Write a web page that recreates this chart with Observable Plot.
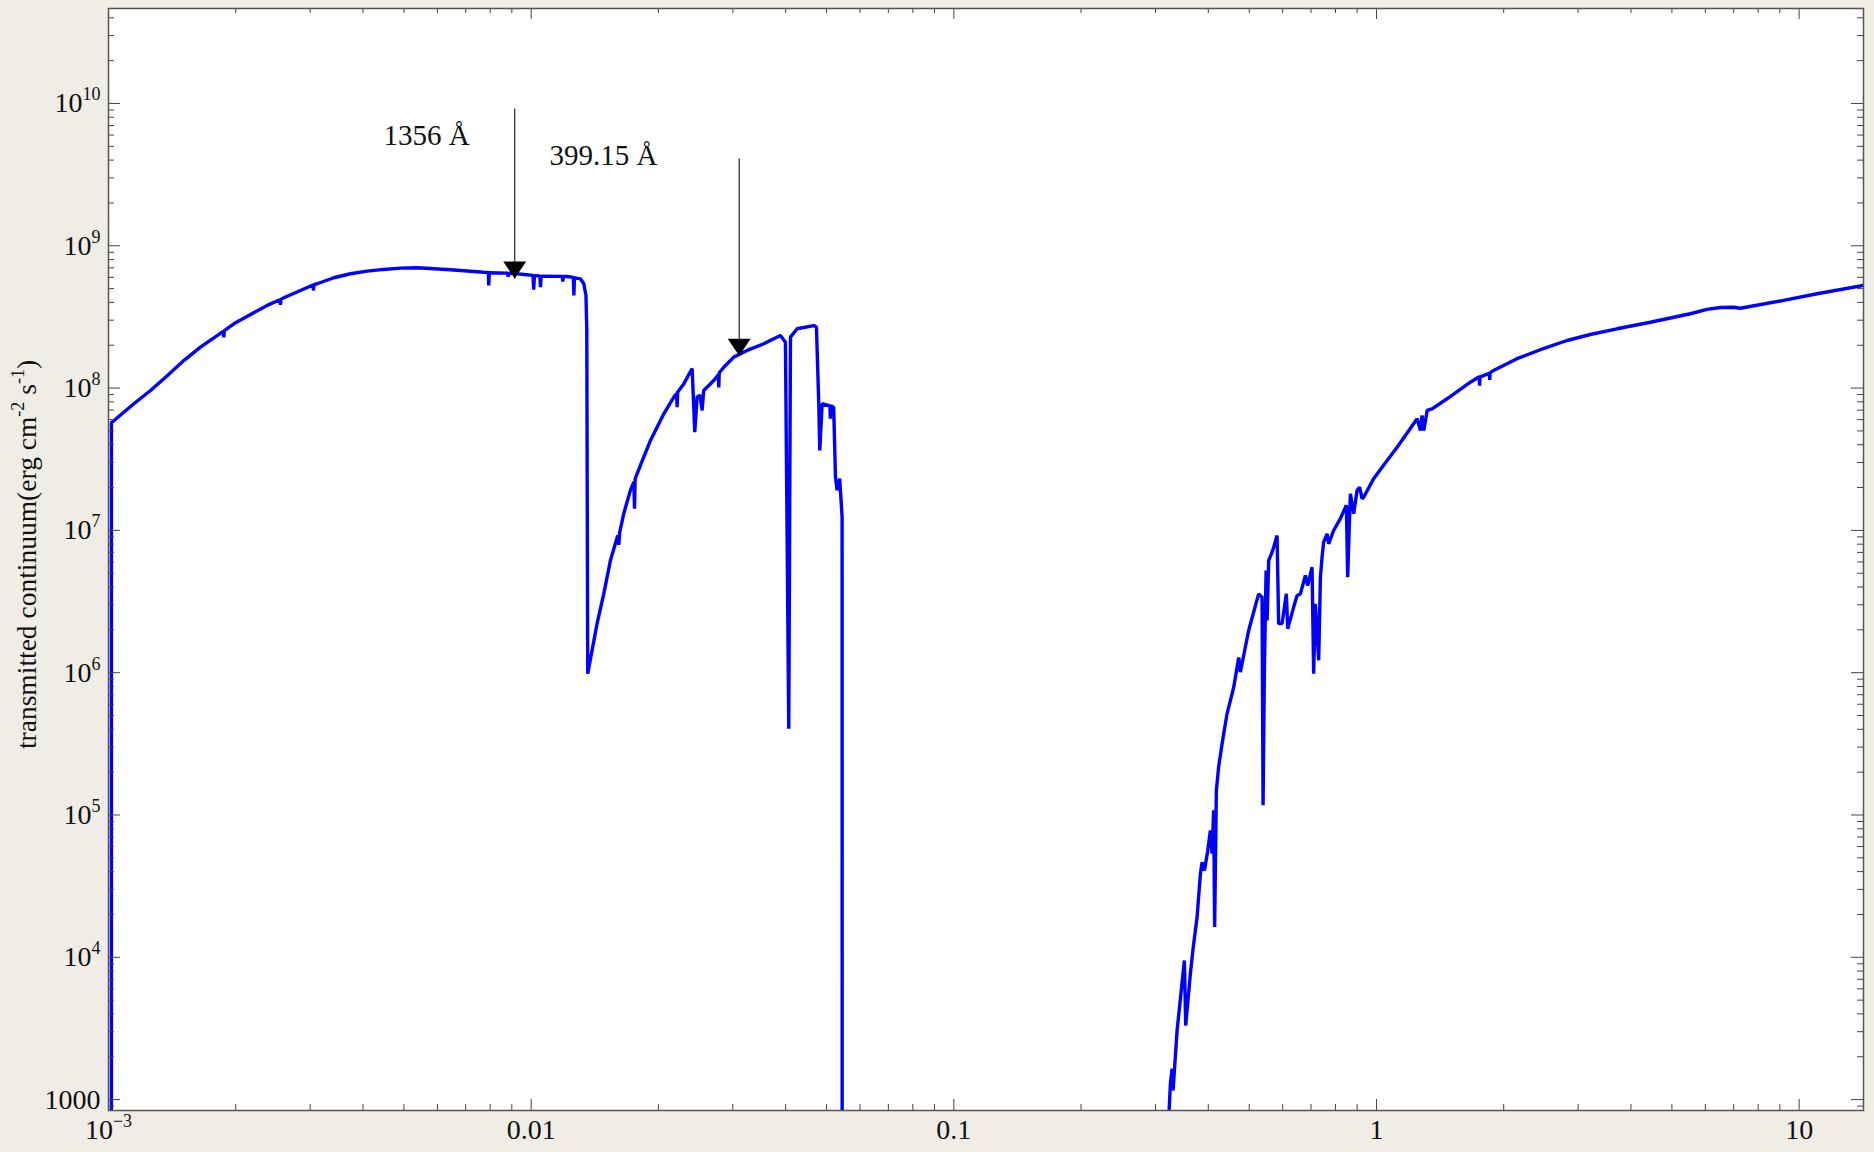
<!DOCTYPE html>
<html>
<head>
<meta charset="utf-8">
<script src="https://cdn.jsdelivr.net/npm/d3@7"></script>
<script src="https://cdn.jsdelivr.net/npm/@observablehq/plot@0.6"></script>
<style>
  html, body { margin: 0; padding: 0; background: #f0ede7; }
  #chart svg { display: block; }
</style>
</head>
<body>
<div id="chart"></div>
<script>
// Transmitted continuum as a function of photon energy (keV), log–log.
// Points where the flux falls below the plotted range carry a value of 1 (or 500)
// so the line runs off the bottom of the frame and is clipped there.
const energy = [
  0.001016, 0.001016, 0.001148, 0.001257, 0.001377, 0.001507, 0.001650,
  0.001808, 0.001868, 0.001874, 0.001880, 0.001979, 0.002168, 0.002373,
  0.002545, 0.002552, 0.002559, 0.002599, 0.002845,
  0.003048, 0.003055, 0.003062, 0.003117, 0.003411, 0.003737, 0.004093,
  0.004481, 0.004907, 0.005374,
  0.006444, 0.007724, 0.00792, 0.007937, 0.00796,
  0.00880, 0.00882, 0.00884, 0.009265,
  0.01010, 0.01014, 0.01018, 0.01048, 0.01052, 0.01056,
  0.01185, 0.01188, 0.01191, 0.01217,
  0.01258, 0.01262, 0.01266, 0.01308, 0.01332, 0.01348, 0.01354, 0.01361,
  // He I / He II part of the spectrum
  0.01432, 0.01485, 0.01540, 0.01598, 0.01605, 0.01612, 0.01619,
  0.01656, 0.01717, 0.01750, 0.01756, 0.01762, 0.01781, 0.01846,
  0.01915, 0.01986, 0.02060, 0.02175, 0.02208, 0.02215, 0.02222,
  0.02296, 0.02404, 0.02438, 0.02470, 0.02510, 0.02538, 0.02560,
  0.02704, 0.02772, 0.02779, 0.02786, 0.02856, 0.03015, 0.03243,
  0.03550, 0.03889, 0.03996, 0.04069, 0.04107, 0.04258, 0.04662,
  0.04731, 0.04792, 0.04818, 0.04881, 0.05090, 0.05104, 0.05118,
  0.05197, 0.05248, 0.05296, 0.05370, 0.05441, 0.05445,
  // soft X-ray recovery
  0.3205, 0.3254, 0.3284, 0.3302, 0.3375, 0.3512, 0.3537, 0.3628,
  0.3682, 0.3763, 0.3832, 0.3867, 0.3917, 0.3989, 0.4046, 0.4083,
  0.4119, 0.4141, 0.4180, 0.4232, 0.4312, 0.4430, 0.4595, 0.4721,
  0.4764, 0.4984, 0.5263, 0.5362, 0.5391, 0.5430, 0.5481, 0.5511,
  0.5559, 0.5662, 0.5712, 0.5818, 0.5869, 0.5978, 0.6120, 0.6166,
  0.6369, 0.6489, 0.6607, 0.6788, 0.6873, 0.7040, 0.7102, 0.7168,
  0.7300, 0.7367, 0.7435, 0.7500, 0.7640, 0.7707, 0.7918, 0.8214,
  0.8488, 0.8548, 0.8641, 0.8676, 0.8832, 0.8998, 0.9125, 0.9245,
  0.9326, 0.9849, 1.031, 1.119, 1.248, 1.271, 1.282, 1.294, 1.318,
  1.354, 1.469, 1.668, 1.750, 1.754, 1.758, 1.849, 1.853, 1.857,
  1.893, 2.150, 2.442, 2.824, 3.206, 3.708, 4.446, 5.528, 6.055,
  6.512, 6.998, 7.259, 9.192, 11.03, 14.21
];
const flux = [
  1, 5.70e7, 7.76e7, 9.62e7, 1.22e8, 1.56e8, 1.94e8,
  2.34e8, 2.50e8, 2.27e8, 2.53e8, 2.83e8, 3.29e8, 3.81e8,
  4.18e8, 3.85e8, 4.21e8, 4.31e8, 4.85e8,
  5.30e8, 4.85e8, 5.33e8, 5.41e8, 5.96e8, 6.36e8, 6.63e8,
  6.82e8, 6.96e8, 7.01e8,
  6.78e8, 6.52e8, 6.49e8, 5.26e8, 6.47e8,
  6.42e8, 6.05e8, 6.41e8, 6.36e8,
  6.19e8, 4.91e8, 6.17e8, 6.14e8, 5.12e8, 6.12e8,
  6.10e8, 5.60e8, 6.10e8, 6.08e8,
  6.00e8, 4.47e8, 5.95e8, 5.86e8, 5.41e8, 4.47e8, 2.54e8, 9.82e5,
  2.21e6, 3.58e6, 6.14e6, 8.96e6, 9.20e6, 7.90e6, 9.60e6,
  1.31e7, 1.91e7, 2.19e7, 1.42e7, 2.30e7, 2.50e7, 3.27e7,
  4.28e7, 5.31e7, 6.60e7, 8.63e7, 9.15e7, 7.34e7, 9.40e7,
  1.07e8, 1.37e8, 4.90e7, 8.63e7, 8.90e7, 6.96e7, 9.62e7,
  1.13e8, 1.24e8, 1.01e8, 1.28e8, 1.40e8, 1.65e8, 1.84e8,
  2.05e8, 2.34e8, 2.10e8, 4.03e5, 2.28e8, 2.61e8, 2.75e8,
  2.68e8, 7.76e7, 3.64e7, 7.76e7, 7.50e7, 6.09e7, 7.50e7,
  7.34e7, 2.37e7, 1.91e7, 2.31e7, 1.24e7, 1,
  500, 1291, 1647, 1159, 3059, 9495, 3317, 7656,
  1.15e4, 1.91e4, 3.86e4, 4.66e4, 4.07e4, 5.63e4, 7.78e4, 5.34e4,
  1.08e5, 1.63e4, 1.49e5, 2.17e5, 3.17e5, 5.14e5, 7.91e5, 1.28e6,
  1.01e6, 1.98e6, 3.58e6, 3.39e6, 1.17e5, 1.04e6, 5.23e6, 2.33e6,
  6.14e6, 7.03e6, 7.62e6, 9.21e6, 2.21e6, 2.21e6, 3.58e6, 2.03e6,
  2.89e6, 3.49e6, 3.58e6, 4.82e6, 4.10e6, 5.51e6, 9.82e5, 3.05e6,
  1.22e6, 4.69e6, 6.48e6, 8.26e6, 9.46e6, 8.05e6, 9.98e6, 1.21e7,
  1.50e7, 4.69e6, 1.31e7, 1.81e7, 1.31e7, 1.91e7, 2.01e7, 1.67e7,
  1.71e7, 2.31e7, 2.78e7, 3.84e7, 6.09e7, 5.04e7, 6.42e7, 5.04e7, 6.96e7,
  7.15e7, 8.41e7, 1.10e8, 1.20e8, 1.04e8, 1.20e8, 1.27e8, 1.14e8, 1.28e8,
  1.33e8, 1.61e8, 1.86e8, 2.16e8, 2.38e8, 2.61e8, 2.90e8, 3.33e8, 3.57e8,
  3.68e8, 3.70e8, 3.64e8, 4.13e8, 4.60e8, 5.26e8
];

// Axis ticks and labels ("^" marks a superscript)
const xTicks = [0.001, 0.01, 0.1, 1, 10];
const xTickLabels = ["10^\u22123", "0.01", "0.1", "1", "10"];
const yTicks = [1e3, 1e4, 1e5, 1e6, 1e7, 1e8, 1e9, 1e10];
const yTickLabels = ["1000", "10^4", "10^5", "10^6", "10^7", "10^8", "10^9", "10^10"];
const yTitle = "transmitted continuum(erg cm^-2 s^-1)";

// Marked wavelengths (Å), with the flux at the arrow tip and tail,
// and where each caption sits (energy in keV, flux)
const markWavelength = [1356, 399.15];
const markLabel = ["1356 Å", "399.15 Å"];
const markTipFlux = [5.89e8, 1.69e8];
const markTailFlux = [9.22e9, 4.11e9];
const markLabelEnergy = [0.004473, 0.01105];
const markLabelFlux = [5.07e9, 3.67e9];

const HC = 12.39842; // keV·Å

const spectrum = energy.map((e, i) => ({e, f: flux[i]}));
const marked = markWavelength.map((w, i) => ({
  e: HC / w,
  tip: markTipFlux[i],
  tail: markTailFlux[i],
  label: markLabel[i],
  le: markLabelEnergy[i],
  lf: markLabelFlux[i]
}));

const xDomain = [0.001, 14.2];
const yDomain = [838, 4.65e10];

// minor ticks: 2–9 within every decade of the domain
function minorTicks([lo, hi]) {
  const out = [];
  for (let k = Math.floor(Math.log10(lo)); k <= Math.ceil(Math.log10(hi)); k++) {
    for (let m = 2; m <= 9; m++) {
      const v = m * Math.pow(10, k);
      if (v >= lo && v <= hi) out.push(v);
    }
  }
  return out;
}
const xMinor = minorTicks(xDomain);
const yMinor = minorTicks(yDomain);

// layout
const W = 1874, H = 1152;
const M = {left: 108, right: 11, top: 8, bottom: 42};
const innerW = W - M.left - M.right;
const innerH = H - M.top - M.bottom;
const major = 12, minor = 6;
const tickColor = "#444";

// filled arrowhead with its tip at the anchor point, pointing down
const arrowHead = {
  draw(context) {
    context.moveTo(0, 0);
    context.lineTo(-11.5, -17);
    context.lineTo(11.5, -17);
    context.closePath();
  }
};

// inward tick segments along each side of the frame
const yTicksOn = (values, len, side) => Plot.tickY(values, {
  y: (d) => d, stroke: tickColor, strokeWidth: 1,
  insetLeft: side === "right" ? innerW - len : 0,
  insetRight: side === "left" ? innerW - len : 0
});
const xTicksOn = (values, len, side) => Plot.tickX(values, {
  x: (d) => d, stroke: tickColor, strokeWidth: 1,
  insetTop: side === "bottom" ? innerH - len : 0,
  insetBottom: side === "top" ? innerH - len : 0
});

const chart = Plot.plot({
  width: W,
  height: H,
  marginLeft: M.left,
  marginRight: M.right,
  marginTop: M.top,
  marginBottom: M.bottom,
  style: {
    fontFamily: '"Liberation Serif", "Times New Roman", serif',
    fontSize: "28px",
    background: "#f0ede7",
    color: "#111",
    overflow: "visible"
  },
  x: {type: "log", domain: xDomain, axis: null},
  y: {type: "log", domain: yDomain, axis: null},
  marks: [
    Plot.frame({fill: "white", stroke: "none"}),

    Plot.line(spectrum, {
      x: "e", y: "f", stroke: "#0000ff", strokeWidth: 3.4,
      strokeLinejoin: "bevel", strokeLinecap: "butt", clip: true
    }),

    // arrows pointing at the marked wavelengths
    Plot.link(marked, {x1: "e", x2: "e", y1: "tail", y2: "tip", stroke: "#222", strokeWidth: 1.2}),
    Plot.dot(marked, {x: "e", y: "tip", symbol: arrowHead, r: 5, fill: "black", stroke: "none"}),
    Plot.text(marked, {
      x: "le", y: "lf", text: "label", textAnchor: "start", lineAnchor: "bottom",
      fontSize: 29, fill: "#111"
    }),

    // inward ticks on all four sides
    yTicksOn(yTicks, major, "left"),
    yTicksOn(yMinor, minor, "left"),
    yTicksOn(yTicks, major, "right"),
    yTicksOn(yMinor, minor, "right"),
    xTicksOn(xTicks, 11, "bottom"),
    xTicksOn(xMinor, minor, "bottom"),
    xTicksOn(xTicks, 11, "top"),
    xTicksOn(xMinor, 5, "top"),

    // tick labels
    Plot.text(yTicks, {
      y: (d) => d, text: (d, i) => yTickLabels[i], frameAnchor: "left",
      textAnchor: "end", dx: -8, fontSize: 28, fill: "#111"
    }),
    Plot.text(xTicks, {
      x: (d) => d, text: (d, i) => xTickLabels[i], frameAnchor: "bottom",
      textAnchor: "middle", lineAnchor: "top", dy: 9, fontSize: 28, fill: "#111"
    }),

    Plot.frame({stroke: "#555", strokeWidth: 1.5}),

    // y-axis title
    Plot.text([yTitle], {
      text: (d) => d, frameAnchor: "left", textAnchor: "middle", rotate: -90,
      dx: -73, dy: -5, lineAnchor: "bottom", fontSize: 27.5, fill: "#111"
    })
  ]
});

// Turn "^..." runs into raised, smaller tspans.
const SVG_NS = "http://www.w3.org/2000/svg";
function superscripts(textEl) {
  const s = textEl.textContent;
  if (!s.includes("^")) return;
  const base = parseFloat(textEl.getAttribute("font-size")) ||
    parseFloat(getComputedStyle(textEl).fontSize) || 28;
  const supSize = Math.round(base * 0.65);
  const raise = Math.round(base * 0.42);
  const parts = s.split(/(\^[^\s)]+)/).filter((p) => p !== "");
  textEl.textContent = "";
  let raised = false;
  for (const p of parts) {
    const t = document.createElementNS(SVG_NS, "tspan");
    if (p.startsWith("^")) {
      t.textContent = p.slice(1);
      t.setAttribute("font-size", supSize);
      t.setAttribute("dy", -raise);
      raised = true;
    } else {
      t.textContent = p;
      if (raised) { t.setAttribute("dy", raise); raised = false; }
    }
    textEl.appendChild(t);
  }
}

document.getElementById("chart").appendChild(chart);
chart.querySelectorAll("text").forEach(superscripts);
</script>
</body>
</html>
